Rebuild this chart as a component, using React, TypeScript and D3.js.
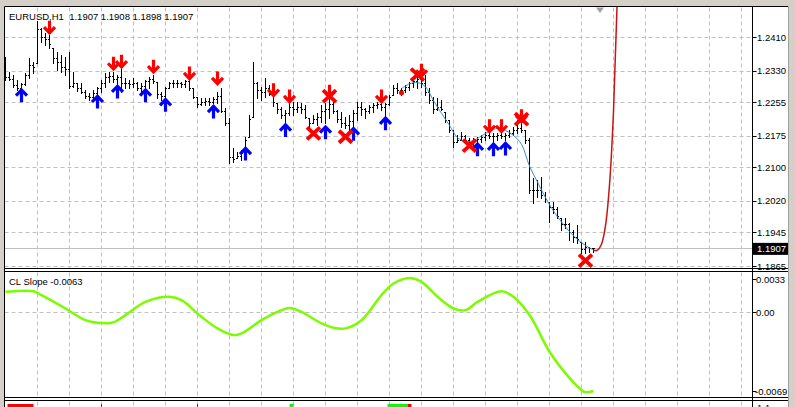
import React from "react";
import * as d3 from "d3";

const WIDTH = 795;
const HEIGHT = 407;

const chartTitle = "EURUSD,H1  1.1907 1.1908 1.1898 1.1907";
const indicatorTitle = "CL Slope -0.0063";

// Hourly bars, oldest first. Each bar opens at the previous close.
const firstOpen = 1.233;
const barHigh = [
  1.2363, 1.2327, 1.232, 1.2308, 1.2301, 1.2325, 1.2361, 1.2351, 1.2449, 1.2432,
  1.242, 1.2416, 1.2385, 1.2375, 1.2368, 1.2363, 1.2375, 1.2327, 1.2301, 1.2301,
  1.2284, 1.2277, 1.2284, 1.2292, 1.2308, 1.2325, 1.2327, 1.2327, 1.232, 1.2337,
  1.2313, 1.2308, 1.2313, 1.2304, 1.2301, 1.2308, 1.2315, 1.232, 1.2304, 1.228,
  1.2292, 1.2304, 1.2308, 1.2308, 1.2304, 1.2308, 1.2315, 1.2289, 1.2268, 1.2265,
  1.2265, 1.2265, 1.2268, 1.228, 1.2289, 1.2242, 1.2218, 1.2146, 1.2137, 1.2142,
  1.2173, 1.2225, 1.2351, 1.2304, 1.2292, 1.2313, 1.2296, 1.2275, 1.2254, 1.2244,
  1.2237, 1.2256, 1.2256, 1.2256, 1.2254, 1.2249, 1.2218, 1.2225, 1.223, 1.2249,
  1.2254, 1.2265, 1.2265, 1.2237, 1.2232, 1.222, 1.2225, 1.2237, 1.2256, 1.2256,
  1.2242, 1.2249, 1.2254, 1.2256, 1.2254, 1.2254, 1.2273, 1.2296, 1.2301, 1.2289,
  1.2296, 1.2304, 1.2313, 1.232, 1.2325, 1.232, 1.2289, 1.2268, 1.2265, 1.2261,
  1.2232, 1.2213, 1.2189, 1.2177, 1.2185, 1.2177, 1.217, 1.217, 1.2173, 1.2177,
  1.2185, 1.2185, 1.2182, 1.2182, 1.2185, 1.2182, 1.2189, 1.2196, 1.2213, 1.2206,
  1.2189, 1.217, 1.2075, 1.207, 1.2077, 1.2042, 1.2018, 1.2018, 1.2006, 1.1979,
  1.1979, 1.1968, 1.1951, 1.1963, 1.1922, 1.1922, 1.191, 1.1908,
];
const barLow = [
  1.2308, 1.2308, 1.2292, 1.2284, 1.2284, 1.2296, 1.2313, 1.2325, 1.2349, 1.2399,
  1.2392, 1.2385, 1.2349, 1.2332, 1.2327, 1.232, 1.2289, 1.2292, 1.2282, 1.2277,
  1.2265, 1.2261, 1.2265, 1.2273, 1.228, 1.2292, 1.2304, 1.2304, 1.2296, 1.228,
  1.2289, 1.2289, 1.2292, 1.2284, 1.228, 1.2284, 1.2289, 1.2301, 1.2265, 1.2261,
  1.2265, 1.2289, 1.2292, 1.2292, 1.2292, 1.2292, 1.2284, 1.2265, 1.2244, 1.2249,
  1.2249, 1.2249, 1.2254, 1.2254, 1.2232, 1.2201, 1.2111, 1.2113, 1.2123, 1.2118,
  1.2142, 1.2173, 1.222, 1.2265, 1.2261, 1.2268, 1.2273, 1.2246, 1.223, 1.2218,
  1.2208, 1.2225, 1.2225, 1.2232, 1.223, 1.2218, 1.2196, 1.2206, 1.2201, 1.2208,
  1.2206, 1.2218, 1.223, 1.2208, 1.2196, 1.2194, 1.2189, 1.2196, 1.2213, 1.2225,
  1.2218, 1.223, 1.2232, 1.2242, 1.2237, 1.222, 1.2249, 1.2273, 1.2277, 1.2273,
  1.228, 1.2284, 1.2292, 1.2289, 1.2292, 1.2273, 1.2254, 1.223, 1.2237, 1.2237,
  1.2208, 1.2185, 1.2149, 1.2161, 1.2165, 1.2158, 1.2149, 1.2154, 1.2158, 1.2161,
  1.2165, 1.217, 1.2161, 1.2165, 1.217, 1.2165, 1.2173, 1.2177, 1.2182, 1.2185,
  1.2158, 1.2039, 1.2015, 1.203, 1.2027, 1.2018, 1.197, 1.1992, 1.1979, 1.1951,
  1.1956, 1.1927, 1.1922, 1.192, 1.1896, 1.1896, 1.1898, 1.1898,
];
const barClose = [
  1.2315, 1.231, 1.2296, 1.229, 1.2298, 1.232, 1.2345, 1.234, 1.243, 1.241,
  1.2405, 1.2395, 1.236, 1.235, 1.234, 1.2335, 1.2295, 1.23, 1.229, 1.228,
  1.227, 1.2268, 1.2278, 1.2288, 1.23, 1.2315, 1.2318, 1.231, 1.2315, 1.23,
  1.23, 1.2298, 1.23, 1.229, 1.2295, 1.2305, 1.231, 1.2305, 1.2275, 1.227,
  1.229, 1.23, 1.23, 1.2302, 1.2298, 1.2305, 1.229, 1.2268, 1.225, 1.2255,
  1.2258, 1.2255, 1.2262, 1.227, 1.2235, 1.2205, 1.2125, 1.212, 1.2128, 1.2135,
  1.2165, 1.2215, 1.23, 1.2285, 1.228, 1.229, 1.2275, 1.2255, 1.224, 1.2225,
  1.223, 1.2245, 1.224, 1.2245, 1.224, 1.222, 1.2205, 1.2215, 1.222, 1.2235,
  1.224, 1.225, 1.2235, 1.2215, 1.2205, 1.22, 1.221, 1.223, 1.2245, 1.224,
  1.2235, 1.2245, 1.2248, 1.225, 1.2245, 1.225, 1.2268, 1.229, 1.2285, 1.2285,
  1.2292, 1.23, 1.2305, 1.231, 1.23, 1.228, 1.226, 1.224, 1.2245, 1.224,
  1.2213, 1.219, 1.216, 1.2165, 1.2175, 1.2165, 1.216, 1.2165, 1.2168, 1.2172,
  1.2178, 1.2175, 1.2175, 1.2178, 1.2175, 1.2178, 1.2182, 1.219, 1.2195, 1.219,
  1.2165, 1.2045, 1.2045, 1.2045, 1.2035, 1.2025, 1.2005, 1.2, 1.1985, 1.1965,
  1.1965, 1.1945, 1.1935, 1.193, 1.1905, 1.191, 1.1907, 1.1907,
];

const priceTicks = [1.241, 1.233, 1.2255, 1.2175, 1.21, 1.202, 1.1945, 1.1865];
const lastPrice = 1.1907;

// signal markers: bar index + price level
const sellBars = [11, 27, 29, 37, 46, 53, 67, 71, 81, 94, 104, 121, 124, 129];
const sellPrices = [1.2433, 1.2347, 1.2352, 1.234, 1.2324, 1.2312, 1.2284, 1.2269, 1.228, 1.2269, 1.233, 1.2198, 1.2198, 1.2222];
const buyBars = [4, 23, 28, 35, 40, 52, 60, 70, 80, 87, 95, 118, 122, 125];
const buyPrices = [1.2272, 1.2257, 1.2281, 1.2272, 1.2249, 1.2233, 1.2133, 1.2189, 1.2184, 1.218, 1.2205, 1.2143, 1.2143, 1.2145];
const exitBars = [77, 81, 85, 103, 116, 129, 145];
const exitPrices = [1.2181, 1.227, 1.2173, 1.2321, 1.2152, 1.2215, 1.1878];
const anchorBar = 99;
const anchorPrice = 1.2278;

// centre line of the regression channel
const clBars = [99, 101, 103, 105, 107, 109, 111, 113, 115, 117, 119, 121, 123, 125, 127, 129, 131, 133, 135, 137, 139, 141, 143, 145, 147];
const clPrices = [1.2288, 1.2299, 1.2302, 1.2292, 1.2259, 1.2229, 1.22, 1.2171, 1.2162, 1.2164, 1.2175, 1.2186, 1.2193, 1.2188, 1.2176, 1.2155, 1.2103, 1.2065, 1.2028, 1.1996, 1.197, 1.1947, 1.1928, 1.1914, 1.1903];

// forward projection of the fitted curve
const projBars = [147, 148, 149, 150, 151, 152, 153, 154];
const projPrices = [1.1902, 1.1903, 1.1917, 1.1961, 1.2058, 1.2233, 1.2517, 1.2942];

// CL Slope oscillator
const slopeBars = [0, 7, 9, 15, 20, 23, 27, 30, 35, 41, 44, 49, 53, 57, 59, 64, 68, 71, 74, 79, 82, 85, 89, 94, 97, 101, 104, 108, 112, 115, 118, 124, 127, 131, 136, 140, 144, 145, 147];
const slopeValues = [0.00168, 0.00173, 0.00141, 0.00034, -0.0006, -0.00081, -0.00078, -0.00019, 0.00087, 0.00128, 0.00101, -0.00033, -0.00126, -0.0018, -0.00166, -0.0006, 0.00007, 0.00039, 0.00007, -0.00086, -0.00121, -0.00126, -0.0006, 0.00141, 0.00235, 0.0028, 0.00248, 0.00128, 0.00034, 0.00021, 0.00087, 0.00173, 0.00128, -0.00019, -0.00314, -0.00488, -0.00622, -0.0064, -0.0063];
const slopeMax = 0.0033;
const slopeMin = -0.0069;
const slopeTickLabels = ["0.0033", "0.00", "-0.0069"];

// third sub-window: visible tops of its histogram
const stripFrom = [0.5, 71, 95.5, 100.5];
const stripTo = [7, 72, 100.5, 101.5];
const stripColors = ["#ff0000", "#00ff00", "#00ff00", "#ff0000"];

// ---- layout ----
const plotLeft = 4.5;
const plotRight = 752.5;
const mainTop = 6.5;
const mainBottom = 268.5;
const subTop = 271.5;
const subBottom = 397.5;
const stripTop = 400.5;
const axisTextX = 757;
const FONT = "'Liberation Sans', Arial, sans-serif";

const xBar = d3.scaleLinear().domain([0, 147]).range([5.5, 593.5]);
const yPrice = d3.scaleLinear().domain([1.1865, 1.241]).range([266, 37.3]);
const ySlope = d3.scaleLinear().domain([slopeMin, slopeMax]).range([398.5, 271.7]);

const col = (i: number) => Math.floor(xBar(i));
const row = (v: number) => Math.round(v);

function downArrow(cx: number, cy: number) {
  return `M${cx},${cy - 7}V${cy + 4.5}M${cx - 5.5},${cy - 0.5}L${cx},${cy + 5.2}L${cx + 5.5},${cy - 0.5}`;
}
function upArrow(cx: number, cy: number) {
  return `M${cx},${cy + 7}V${cy - 4.5}M${cx - 5.5},${cy + 0.5}L${cx},${cy - 5.2}L${cx + 5.5},${cy + 0.5}`;
}
function crossMark(cx: number, cy: number) {
  return `M${cx - 6.5},${cy - 6}L${cx + 6.5},${cy + 6}M${cx + 6.5},${cy - 6}L${cx - 6.5},${cy + 6}`;
}

export default function App() {
  const gridXs: number[] = [];
  for (let k = 8; xBar(k) < plotRight - 4; k += 8) gridXs.push(col(k) + 0.5);

  const opens = barClose.map((_, i) => (i === 0 ? firstOpen : barClose[i - 1]));

  const clPath = d3
    .line<number>()
    .x((_, k) => xBar(clBars[k]))
    .y((v) => yPrice(v))
    .curve(d3.curveCatmullRom)(clPrices) as string;

  const projPath = d3
    .line<number>()
    .x((_, k) => xBar(projBars[k]))
    .y((v) => yPrice(v))
    .curve(d3.curveCatmullRom)(projPrices) as string;

  const slopePath = d3
    .line<number>()
    .x((_, k) => xBar(slopeBars[k]))
    .y((v) => ySlope(v))
    .curve(d3.curveCatmullRom)(slopeValues) as string;

  const slopeLabelY = [ySlope(slopeMax) + 7.3, ySlope(0), ySlope(slopeMin) - 6.8];
  const lastY = yPrice(lastPrice);

  return (
    <svg
      width={WIDTH}
      height={HEIGHT}
      viewBox={`0 0 ${WIDTH} ${HEIGHT}`}
      style={{ position: "absolute", left: 0, top: 0, display: "block", background: "#ffffff" }}
      fontFamily={FONT}
    >
      <defs>
        <clipPath id="mainClip">
          <rect x={plotLeft + 0.5} y={mainTop + 0.5} width={plotRight - plotLeft - 1} height={mainBottom - mainTop - 1} />
        </clipPath>
        <clipPath id="subClip">
          <rect x={plotLeft + 0.5} y={subTop + 0.5} width={plotRight - plotLeft - 1} height={subBottom - subTop - 1} />
        </clipPath>
        <clipPath id="stripClip">
          <rect x={plotLeft + 0.5} y={stripTop + 0.5} width={plotRight - plotLeft - 1} height={HEIGHT - stripTop} />
        </clipPath>
      </defs>

      <rect x={0} y={0} width={WIDTH} height={HEIGHT} fill="#ffffff" />

      {/* window chrome */}
      <rect x={0} y={0} width={WIDTH} height={6} fill="#d4d0c8" />
      <rect x={0} y={0} width={4} height={HEIGHT} fill="#d4d0c8" />
      <rect x={789} y={0} width={6} height={HEIGHT} fill="#d4d0c8" />
      <line x1={788.5} y1={6} x2={788.5} y2={HEIGHT} stroke="#a0a0a0" />

      {/* vertical grid */}
      <g stroke="#c0c0c0" strokeDasharray="4,3" strokeWidth={1}>
        {gridXs.map((x) => (
          <g key={x}>
            <line x1={x} y1={mainTop + 1} x2={x} y2={mainBottom} />
            <line x1={x} y1={subTop + 1} x2={x} y2={subBottom} />
            <line x1={x} y1={stripTop + 1} x2={x} y2={HEIGHT} />
          </g>
        ))}
      </g>

      {/* price grid */}
      <g stroke="#c0c0c0" strokeDasharray="4,3">
        {priceTicks.map((t) => (
          <line key={t} x1={plotLeft} x2={plotRight} y1={row(yPrice(t)) + 0.5} y2={row(yPrice(t)) + 0.5} />
        ))}
      </g>
      <line x1={plotLeft} x2={plotRight} y1={row(lastY) + 0.5} y2={row(lastY) + 0.5} stroke="#c0c0c0" />

      {/* price bars */}
      <g clipPath="url(#mainClip)" fill="#000000">
        {barHigh.map((h, i) => {
          const c = col(i);
          const top = row(yPrice(h));
          const bot = row(yPrice(barLow[i]));
          const o = Math.max(barLow[i], Math.min(h, opens[i]));
          const cl = Math.max(barLow[i], Math.min(h, barClose[i]));
          return (
            <g key={i}>
              <rect x={c} y={top} width={1} height={Math.max(1, bot - top + 1)} />
              <rect x={c - 1} y={row(yPrice(o))} width={1} height={1} />
              <rect x={c + 1} y={row(yPrice(cl))} width={1} height={1} />
            </g>
          );
        })}
      </g>

      <g clipPath="url(#mainClip)">
        <path d={clPath} fill="none" stroke="#3c8dc8" strokeWidth={1} />
        <path d={projPath} fill="none" stroke="#c81414" strokeWidth={1.5} />
        <circle cx={xBar(anchorBar)} cy={yPrice(anchorPrice)} r={2.5} fill="#ff0000" />

        <g stroke="#0000ff" strokeWidth={3.2} fill="none">
          {buyBars.map((b, k) => (
            <path key={k} d={upArrow(col(b) + 0.5, yPrice(buyPrices[k]))} />
          ))}
        </g>
        <g stroke="#ff0000" strokeWidth={3.2} fill="none">
          {sellBars.map((b, k) => (
            <path key={k} d={downArrow(col(b) + 0.5, yPrice(sellPrices[k]))} />
          ))}
        </g>
        <g stroke="#ff0000" strokeWidth={3.8} fill="none">
          {exitBars.map((b, k) => (
            <path key={k} d={crossMark(col(b) + 0.5, yPrice(exitPrices[k]))} />
          ))}
        </g>
      </g>

      {/* chart shift marker */}
      <path d="M596,7.5L604,7.5L600,13Z" fill="#a0a0a0" />

      {/* oscillator */}
      <line x1={plotLeft} x2={plotRight} y1={Math.floor(ySlope(0)) + 0.5} y2={Math.floor(ySlope(0)) + 0.5} stroke="#c0c0c0" strokeDasharray="4,3" />
      <g clipPath="url(#subClip)">
        <path d={slopePath} fill="none" stroke="#7cfc00" strokeWidth={2.5} strokeLinejoin="round" />
      </g>

      {/* histogram window tops */}
      <g clipPath="url(#stripClip)">
        {stripFrom.map((f, k) => (
          <rect key={k} x={xBar(f)} y={404} width={xBar(stripTo[k]) - xBar(f)} height={4} fill={stripColors[k]} />
        ))}
        <rect x={col(24)} y={404} width={1} height={4} fill="#404040" />
        <rect x={col(48)} y={404} width={1} height={4} fill="#404040" />
      </g>

      {/* frames */}
      <g fill="none" stroke="#000000" strokeWidth={1}>
        <line x1={plotLeft} y1={mainTop} x2={788} y2={mainTop} />
        <line x1={plotLeft} y1={mainTop} x2={plotLeft} y2={HEIGHT} />
        <line x1={plotRight} y1={mainTop} x2={plotRight} y2={HEIGHT} />
        <line x1={plotLeft} y1={mainBottom} x2={788} y2={mainBottom} />
        <line x1={plotLeft} y1={subTop} x2={788} y2={subTop} />
        <line x1={plotLeft} y1={subBottom} x2={788} y2={subBottom} />
        <line x1={plotLeft} y1={stripTop} x2={788} y2={stripTop} />
      </g>

      {/* price axis */}
      <g fontSize={9.5} fill="#000000">
        {priceTicks.map((t) => (
          <g key={t}>
            <line x1={plotRight} x2={plotRight + 4} y1={row(yPrice(t)) + 0.5} y2={row(yPrice(t)) + 0.5} stroke="#000000" />
            <text x={axisTextX} y={yPrice(t) + 3.5}>{t.toFixed(4)}</text>
          </g>
        ))}
        <rect x={plotRight + 0.5} y={lastY - 5.5} width={35} height={12} fill="#000000" />
        <text x={axisTextX} y={lastY + 4} fill="#ffffff">{lastPrice.toFixed(4)}</text>
      </g>

      {/* oscillator axis */}
      <g fontSize={9.5} fill="#000000">
        {slopeTickLabels.map((s, k) => (
          <g key={s}>
            <line x1={plotRight} x2={plotRight + 4} y1={Math.floor(slopeLabelY[k]) + 0.5} y2={Math.floor(slopeLabelY[k]) + 0.5} stroke="#000000" />
            <text x={s.startsWith("-") ? axisTextX - 2 : axisTextX - 1} y={slopeLabelY[k] + 3.5}>{s}</text>
          </g>
        ))}
        <text x={axisTextX} y={411}>1.1</text>
      </g>

      {/* titles */}
      <text x={9} y={19.5} fontSize={9.5} fill="#000000" style={{ whiteSpace: "pre" }}>{chartTitle}</text>
      <text x={9} y={284.5} fontSize={9.5} fill="#000000">{indicatorTitle}</text>
    </svg>
  );
}
